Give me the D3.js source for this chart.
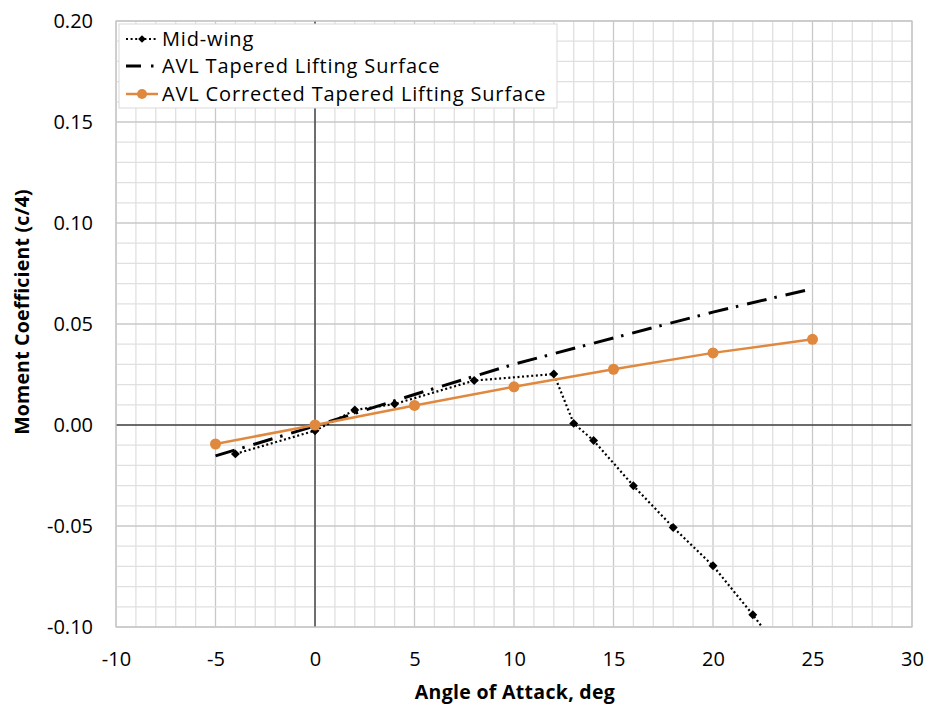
<!DOCTYPE html>
<html><head><meta charset="utf-8">
<script src="https://cdn.jsdelivr.net/npm/d3@7"></script>
<style>body{margin:0;background:#fff}svg{display:block}text{font-family:"Open Sans",sans-serif;fill:#000}</style>
</head><body><svg id="c" width="930" height="711"></svg>
<script>
const midAoA = [-4, 0, 2, 4, 8, 12, 13, 14, 16, 18, 20, 22, 24];
const midCm  = [-0.0143, -0.0028, 0.0074, 0.0104, 0.0220, 0.0252, 0.0008, -0.0077, -0.0301, -0.0507, -0.0697, -0.0939, -0.120];
const avlAoA = [-5, 0, 5, 10, 15, 20, 25];
const avlCm  = [-0.0153, -0.0005, 0.0151, 0.0301, 0.0431, 0.0559, 0.0675];
const corAoA = [-5, 0, 5, 10, 15, 20, 25];
const corCm  = [-0.0094, 0.0000, 0.0097, 0.0189, 0.0276, 0.0357, 0.0424];
const xTicks = [-10, -5, 0, 5, 10, 15, 20, 25, 30];
const yTicks = [-0.10, -0.05, 0.00, 0.05, 0.10, 0.15, 0.20];
const seriesNames = ["Mid-wing", "AVL Tapered Lifting Surface", "AVL Corrected Tapered Lifting Surface"];

const svg = d3.select("#c");
const L = 116, R = 912, T = 21, B = 627;
const x = d3.scaleLinear().domain([-10, 30]).range([L, R]);
const y = d3.scaleLinear().domain([-0.10, 0.20]).range([B, T]);
const orange = "#e0883d";
const hy = s => s.replace("\u2212", "-");

// grid
const g = svg.append("g");
d3.range(-10, 31, 1).forEach(v => {
  const major = v % 5 === 0;
  g.append("line").attr("x1", x(v)).attr("x2", x(v)).attr("y1", T).attr("y2", B)
    .attr("stroke", major ? "#c8c8c8" : "#e0e0e0").attr("stroke-width", 1.3);
});
d3.range(-10, 21, 1).forEach(i => {
  const v = i / 100;
  const major = i % 5 === 0;
  g.append("line").attr("x1", L).attr("x2", R).attr("y1", y(v)).attr("y2", y(v))
    .attr("stroke", major ? "#c8c8c8" : "#e0e0e0").attr("stroke-width", 1.3);
});

// zero axes
svg.append("line").attr("x1", L).attr("x2", R).attr("y1", y(0)).attr("y2", y(0)).attr("stroke", "#000").attr("stroke-width", 1);
svg.append("line").attr("x1", x(0)).attr("x2", x(0)).attr("y1", T).attr("y2", B).attr("stroke", "#000").attr("stroke-width", 1);

// axes labels
const xa = svg.append("g").attr("transform", `translate(0,${B})`)
  .call(d3.axisBottom(x).tickValues(xTicks).tickSize(0).tickPadding(33).tickFormat(d => hy(d3.format("d")(d))));
xa.select(".domain").remove();
xa.selectAll("text").attr("font-size", 20).attr("dy", "0.32em").style("font-family", "'Open Sans',sans-serif");
const ya = svg.append("g").attr("transform", `translate(${L},0)`)
  .call(d3.axisLeft(y).tickValues(yTicks).tickSize(0).tickPadding(23).tickFormat(d => hy(d3.format(".2f")(d))));
ya.select(".domain").remove();
ya.selectAll("text").attr("font-size", 20).style("font-family", "'Open Sans',sans-serif");

svg.append("text").attr("x", 515).attr("y", 699).attr("text-anchor", "middle")
  .attr("font-size", 19.5).attr("font-weight", "bold").attr("letter-spacing", "0.3px").text("Angle of Attack, deg");
svg.append("text").attr("transform", `translate(29,312) rotate(-90)`).attr("text-anchor", "middle")
  .attr("font-size", 19.5).attr("font-weight", "bold").attr("letter-spacing", "0.2px").text("Moment Coefficient (c/4)");

// clip
svg.append("clipPath").attr("id", "clip").append("rect").attr("x", L).attr("y", T).attr("width", R - L).attr("height", B - T);
const plot = svg.append("g").attr("clip-path", "url(#clip)");
const line = d3.line().x(d => x(d[0])).y(d => y(d[1]));

const avl = avlAoA.map((a, i) => [a, avlCm[i]]);
const mid = midAoA.map((a, i) => [a, midCm[i]]);
const cor = corAoA.map((a, i) => [a, corCm[i]]);
const diamond = d3.symbol(d3.symbolSquare, 40);

plot.append("path").datum(avl).attr("d", line).attr("fill", "none").attr("stroke", "#000")
  .attr("stroke-width", 3).attr("stroke-dasharray", "20,8,2.5,9");
plot.append("path").datum(mid).attr("d", line).attr("fill", "none").attr("stroke", "#000")
  .attr("stroke-width", 2.2).attr("stroke-dasharray", "2,2.6");
plot.selectAll(".dm").data(mid).enter().append("path")
  .attr("d", diamond).attr("transform", d => `translate(${x(d[0])},${y(d[1])}) rotate(45)`).attr("fill", "#000");
plot.append("path").datum(cor).attr("d", line).attr("fill", "none").attr("stroke", orange).attr("stroke-width", 2.5);
plot.selectAll(".oc").data(cor).enter().append("circle")
  .attr("cx", d => x(d[0])).attr("cy", d => y(d[1])).attr("r", 5.5).attr("fill", orange);

// plot border
svg.append("rect").attr("x", L).attr("y", T).attr("width", R - L).attr("height", B - T)
  .attr("fill", "none").attr("stroke", "#c8c8c8").attr("stroke-width", 1.3);

// legend
const lg = svg.append("g");
lg.append("rect").attr("x", 119).attr("y", 24).attr("width", 438).attr("height", 84)
  .attr("fill", "#fff").attr("stroke", "#d9d9d9").attr("stroke-width", 1);
const ly = [39, 66, 94];
lg.append("line").attr("x1", 126).attr("x2", 158).attr("y1", ly[0]).attr("y2", ly[0]).attr("stroke", "#000")
  .attr("stroke-width", 2.2).attr("stroke-dasharray", "2,2.6");
lg.append("path").attr("d", d3.symbol(d3.symbolSquare, 30)).attr("transform", `translate(142,${ly[0]}) rotate(45)`).attr("fill", "#000");
lg.append("line").attr("x1", 126).attr("x2", 158).attr("y1", ly[1]).attr("y2", ly[1]).attr("stroke", "#000")
  .attr("stroke-width", 3).attr("stroke-dasharray", "15,10,2.5,9");
lg.append("line").attr("x1", 126).attr("x2", 158).attr("y1", ly[2]).attr("y2", ly[2]).attr("stroke", orange).attr("stroke-width", 2.5);
lg.append("circle").attr("cx", 142).attr("cy", ly[2]).attr("r", 5).attr("fill", orange);
seriesNames.forEach((n, i) => {
  lg.append("text").attr("x", 162).attr("y", ly[i]).attr("dy", "0.35em").attr("font-size", 20).attr("letter-spacing", "0.85px").text(n);
});
</script></body></html>
